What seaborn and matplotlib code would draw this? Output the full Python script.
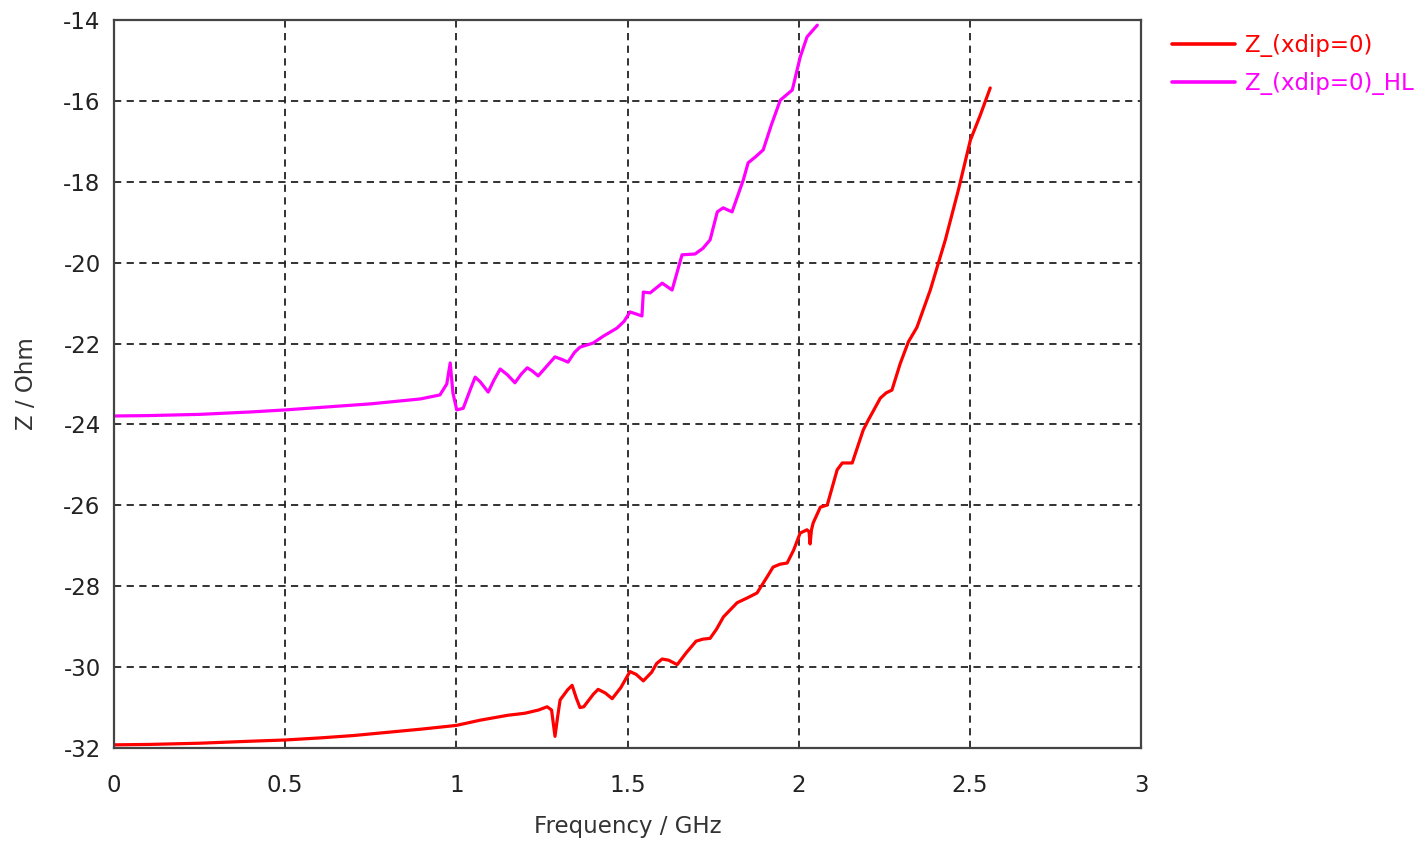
import numpy as np
import pandas as pd
import matplotlib
matplotlib.use("Agg")
import matplotlib.pyplot as plt
import seaborn as sns

# Impedance vs frequency for the two dipole configurations
freq_z = [0.0, 0.1, 0.25, 0.4, 0.5, 0.6, 0.7, 0.8, 0.9, 1.0, 1.07, 1.15, 1.2,
          1.24, 1.265, 1.278, 1.288, 1.296, 1.303, 1.325, 1.338, 1.35, 1.361,
          1.372, 1.40, 1.414, 1.435, 1.455, 1.48, 1.507, 1.525, 1.546, 1.57,
          1.585, 1.601, 1.62, 1.645, 1.67, 1.70, 1.72, 1.741, 1.76, 1.78, 1.82,
          1.85, 1.878, 1.907, 1.925, 1.945, 1.966, 1.985, 2.004, 2.024, 2.030,
          2.033, 2.037, 2.042, 2.063, 2.083, 2.112, 2.127, 2.156, 2.188, 2.203,
          2.238, 2.255, 2.272, 2.296, 2.32, 2.345, 2.384, 2.428, 2.466, 2.501,
          2.53, 2.559]
z_vals = [-31.91, -31.90, -31.87, -31.82, -31.79, -31.74, -31.68, -31.60, -31.52,
          -31.43, -31.30, -31.18, -31.13, -31.05, -30.97, -31.05, -31.70, -31.20,
          -30.80, -30.55, -30.44, -30.75, -30.99, -30.97, -30.66, -30.54, -30.63,
          -30.77, -30.50, -30.10, -30.17, -30.33, -30.12, -29.90, -29.79, -29.82,
          -29.93, -29.65, -29.35, -29.30, -29.28, -29.05, -28.75, -28.40, -28.28,
          -28.16, -27.77, -27.52, -27.45, -27.42, -27.10, -26.68, -26.60, -26.65,
          -26.95, -26.60, -26.43, -26.04, -25.99, -25.12, -24.95, -24.95, -24.14,
          -23.89, -23.35, -23.22, -23.15, -22.50, -21.96, -21.60, -20.68, -19.44,
          -18.21, -16.98, -16.36, -15.69]

freq_hl = [0.0, 0.1, 0.25, 0.4, 0.5, 0.6, 0.75, 0.894, 0.952, 0.972, 0.982, 0.99,
           1.001, 1.02, 1.04, 1.055, 1.07, 1.093, 1.11, 1.128, 1.15, 1.171, 1.19,
           1.207, 1.222, 1.239, 1.265, 1.288, 1.31, 1.326, 1.345, 1.361, 1.399,
           1.429, 1.469, 1.49, 1.507, 1.542, 1.546, 1.566, 1.601, 1.63, 1.659,
           1.697, 1.72, 1.741, 1.762, 1.779, 1.805, 1.838, 1.852, 1.875, 1.896,
           1.92, 1.946, 1.981, 2.004, 2.024, 2.054]
z_hl_vals = [-23.79, -23.78, -23.75, -23.69, -23.64, -23.58, -23.49, -23.37, -23.27,
             -23.00, -22.48, -23.22, -23.64, -23.60, -23.15, -22.83, -22.95, -23.20,
             -22.90, -22.63, -22.78, -22.97, -22.75, -22.60, -22.68, -22.80, -22.55,
             -22.33, -22.40, -22.46, -22.22, -22.09, -21.99, -21.82, -21.62, -21.45,
             -21.22, -21.32, -20.73, -20.75, -20.51, -20.68, -19.81, -19.79, -19.65,
             -19.44, -18.75, -18.65, -18.75, -17.96, -17.54, -17.38, -17.22, -16.60,
             -15.99, -15.74, -14.93, -14.43, -14.14]

series_names = ["Z_(xdip=0)", "Z_(xdip=0)_HL"]
series_colors = ["#ff0000", "#ff00ff"]

x_ticks = [0, 0.5, 1, 1.5, 2, 2.5, 3]
y_ticks = [-32, -30, -28, -26, -24, -22, -20, -18, -16, -14]

df = pd.concat([
    pd.DataFrame({"freq": freq_z, "z": z_vals, "series": series_names[0]}),
    pd.DataFrame({"freq": freq_hl, "z": z_hl_vals, "series": series_names[1]}),
], ignore_index=True)

sns.set_theme(style="white")
plt.rcParams["font.family"] = ["DejaVu Sans"]

FS = 16.5

fig = plt.figure(figsize=(14.26, 8.41), dpi=100)
ax = fig.add_axes([0.0799, 0.110, 0.7204, 0.8668])

sns.lineplot(data=df, x="freq", y="z", hue="series", palette=series_colors,
             hue_order=series_names, estimator=None, sort=False,
             linewidth=2.3, ax=ax, legend=False)

ax.set_xlim(0, 3)
ax.set_ylim(-32, -14)
ax.set_xticks(x_ticks)
ax.set_xticklabels([f"{t:g}" for t in x_ticks])
ax.set_yticks(y_ticks)
ax.set_yticklabels([f"{t:g}" for t in y_ticks])

ax.grid(True, color="#222222", linestyle=(0, (4, 3)), linewidth=1.3)
ax.set_axisbelow(True)
for sp in ax.spines.values():
    sp.set_visible(True)
    sp.set_color("#444444")
    sp.set_linewidth(1.6)

ax.tick_params(axis="both", direction="inout", length=9, width=1.2,
               color="#333333", labelsize=FS, labelcolor="#222222", pad=5)
ax.tick_params(axis="x", pad=14)

ax.set_xlabel("Frequency / GHz", fontsize=FS, color="#333333", labelpad=13)
ax.set_ylabel("Z / Ohm", fontsize=FS, color="#333333", labelpad=18)

handles = [plt.Line2D([], [], color=c, linewidth=2.6) for c in series_colors]
fig.legend(handles, series_names, loc="upper left", bbox_to_anchor=(0.8219, 0.96),
           frameon=False, fontsize=FS, labelcolor=series_colors,
           borderpad=0, borderaxespad=0,
           handlelength=2.75, handletextpad=0.45, labelspacing=0.68)

fig.savefig("out.png", dpi=100, facecolor="white")
